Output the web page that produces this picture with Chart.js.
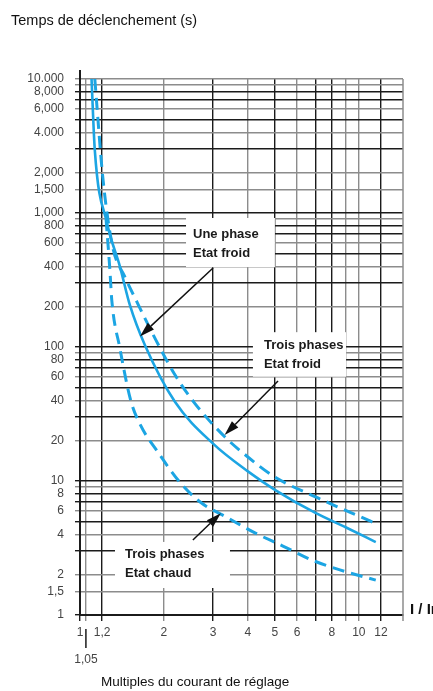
<!DOCTYPE html>
<html>
<head>
<meta charset="utf-8">
<script src="https://cdn.jsdelivr.net/npm/chart.js@4.4.1/dist/chart.umd.min.js"></script>
<style>
  html, body { margin: 0; padding: 0; background: #fff; }
  canvas { display: block; }
</style>
</head>
<body>
<canvas id="tripChart" width="433" height="691"></canvas>
<script>
const unePhaseFroidX = [1.10, 1.13, 1.25, 1.39, 1.51, 1.71, 2.19, 3.0, 4.0, 5.0, 6.96, 9.0, 11.5];
const unePhaseFroidY = [10000, 2950, 840, 400, 205, 103, 39, 19, 11.8, 8.6, 5.8, 4.5, 3.5];

const troisPhasesFroidX = [1.13, 1.21, 1.31, 1.45, 1.60, 1.87, 2.19, 2.58, 3.31, 4.0, 5.0, 7.13, 8.41, 10.8, 11.5];
const troisPhasesFroidY = [10000, 1760, 557, 333, 217, 113, 62, 38, 21.3, 15.1, 10.7, 7.47, 6.4, 5.1, 4.8];

const troisPhasesChaudX = [1.24, 1.28, 1.30, 1.39, 1.52, 1.65, 1.90, 2.28, 2.69, 3.39, 4.24, 5.34, 6.79, 8.55, 11.5];
const troisPhasesChaudY = [900, 375, 224, 98, 40, 26, 16.5, 9.8, 7.0, 5.3, 4.1, 3.27, 2.57, 2.17, 1.82];

// graduations
const xTicks = [1, 1.05, 1.2, 2, 3, 4, 5, 6, 7, 8, 9, 10, 12];
const xTickLabels = ['1', '', '1,2', '2', '3', '4', '5', '6', '', '8', '', '10', '12'];
const yTicks = [1, 1.5, 2, 3, 4, 5, 6, 7, 8, 9, 10, 20, 30, 40, 50, 60, 70, 80, 90,
  100, 200, 300, 400, 500, 600, 700, 800, 900, 1000, 1500, 2000, 3000, 4000, 5000,
  6000, 7000, 8000, 9000, 10000];
const yTickLabels = ['1', '1,5', '2', '', '4', '', '6', '', '8', '', '10', '20', '', '40', '', '60', '', '80', '',
  '100', '200', '', '400', '', '600', '', '800', '', '1,000', '1,500', '2,000', '', '4.000', '',
  '6,000', '', '8,000', '', '10.000'];

// styles
const BLUE = '#1ca5e3';
const DARK = '#1b1b1b';
const GREY = '#8c8c8c';
const darkX = [1, 1.2, 3, 5, 7, 8, 12];
const darkYMantissa = [1, 3, 5, 7, 8];

function points(xs, ys) {
  return xs.map((x, i) => ({ x: x, y: ys[i] }));
}

function yLineColor(v) {
  const m = Math.round(v / Math.pow(10, Math.floor(Math.log10(v) + 1e-9)) * 10) / 10;
  if (v === 10000) return GREY;
  return darkYMantissa.includes(m) ? DARK : GREY;
}

// callouts: coins des cadres et flèches en coordonnées de l'abaque
const callouts = [
  { lines: ['Une phase', 'Etat froid'], box: [2.4, 5.0, 918, 395], textDx: 7, textDy: [16, 35],
    arrow: [3.0, 389, 1.64, 120] },
  { lines: ['Trois phases', 'Etat froid'], box: [4.17, 9.0, 129, 60], textDx: 11, textDy: [13, 32],
    arrow: [5.13, 55.7, 3.3, 22] },
  { lines: ['Trois phases', 'Etat chaud'], box: [1.335, 3.45, 3.51, 1.59], textDx: 10, textDy: [12, 31],
    arrow: [2.54, 3.63, 3.2, 5.75] }
];

function drawArrow(ctx, x1, y1, x2, y2) {
  const ang = Math.atan2(y2 - y1, x2 - x1);
  const len = 15, half = 4.5;
  const bx = x2 - Math.cos(ang) * len, by = y2 - Math.sin(ang) * len;
  ctx.strokeStyle = '#111';
  ctx.lineWidth = 1.5;
  ctx.beginPath();
  ctx.moveTo(x1, y1);
  ctx.lineTo(bx, by);
  ctx.stroke();
  ctx.fillStyle = '#111';
  ctx.beginPath();
  ctx.moveTo(x2, y2);
  ctx.lineTo(bx + Math.sin(ang) * half, by - Math.cos(ang) * half);
  ctx.lineTo(bx - Math.sin(ang) * half, by + Math.cos(ang) * half);
  ctx.closePath();
  ctx.fill();
}

const annotations = {
  id: 'annotations',
  afterDatasetsDraw(chart) {
    const { ctx, chartArea, scales } = chart;
    const xs = scales.x, ys = scales.y;
    ctx.save();

    // bord droit de la grille
    ctx.strokeStyle = GREY;
    ctx.lineWidth = 1.5;
    ctx.beginPath();
    ctx.moveTo(chartArea.right, chartArea.top);
    ctx.lineTo(chartArea.right, chartArea.bottom + 6);
    ctx.stroke();

    // axe vertical prolongé vers le haut
    ctx.strokeStyle = DARK;
    ctx.lineWidth = 2;
    ctx.beginPath();
    ctx.moveTo(chartArea.left, chartArea.top - 9);
    ctx.lineTo(chartArea.left, chartArea.top);
    ctx.stroke();

    // repère 1,05
    const x105 = xs.getPixelForValue(1.05);
    ctx.lineWidth = 1.5;
    ctx.beginPath();
    ctx.moveTo(x105, chartArea.bottom + 14);
    ctx.lineTo(x105, chartArea.bottom + 33);
    ctx.stroke();
    ctx.fillStyle = '#444';
    ctx.font = '12px "Liberation Sans", Arial, sans-serif';
    ctx.textAlign = 'center';
    ctx.textBaseline = 'middle';
    ctx.fillText('1,05', x105, chartArea.bottom + 45);

    // cadres et flèches
    callouts.forEach(c => {
      const l = xs.getPixelForValue(c.box[0]);
      const r = xs.getPixelForValue(c.box[1]);
      const t = ys.getPixelForValue(c.box[2]);
      const b = ys.getPixelForValue(c.box[3]);
      ctx.fillStyle = '#fff';
      ctx.fillRect(l, t, r - l, b - t);
      ctx.fillStyle = '#1a1a1a';
      ctx.font = 'bold 13px "Liberation Sans", Arial, sans-serif';
      ctx.textAlign = 'left';
      ctx.textBaseline = 'middle';
      c.lines.forEach((txt, i) => ctx.fillText(txt, l + c.textDx, t + c.textDy[i]));
      drawArrow(ctx,
        xs.getPixelForValue(c.arrow[0]), ys.getPixelForValue(c.arrow[1]),
        xs.getPixelForValue(c.arrow[2]), ys.getPixelForValue(c.arrow[3]));
    });

    // titres
    ctx.fillStyle = '#111';
    ctx.textAlign = 'left';
    ctx.textBaseline = 'middle';
    ctx.font = '14.5px "Liberation Sans", Arial, sans-serif';
    ctx.fillText('Temps de déclenchement (s)', 11, 21);
    ctx.font = '13.5px "Liberation Sans", Arial, sans-serif';
    ctx.fillText('Multiples du courant de réglage', 101, 682);
    ctx.font = 'bold 15px "Liberation Sans", Arial, sans-serif';
    ctx.fillText('I / Ir', chartArea.right + 7, chartArea.bottom - 5);

    ctx.restore();
  }
};

const ctx = document.getElementById('tripChart').getContext('2d');
const chart = new Chart(ctx, {
  type: 'line',
  data: {
    datasets: [
      {
        label: 'Une phase, état froid',
        data: points(unePhaseFroidX, unePhaseFroidY),
        borderColor: BLUE, borderWidth: 2.6, pointRadius: 0,
        cubicInterpolationMode: 'monotone'
      },
      {
        label: 'Trois phases, état froid',
        data: points(troisPhasesFroidX, troisPhasesFroidY),
        borderColor: BLUE, borderWidth: 3, borderDash: [12, 7], pointRadius: 0,
        cubicInterpolationMode: 'monotone'
      },
      {
        label: 'Trois phases, état chaud',
        data: points(troisPhasesChaudX, troisPhasesChaudY),
        borderColor: BLUE, borderWidth: 3, borderDash: [12, 7], pointRadius: 0,
        cubicInterpolationMode: 'monotone'
      }
    ]
  },
  options: {
    responsive: false,
    animation: false,
    devicePixelRatio: 1,
    layout: { padding: { top: 79, right: 30, left: 0, bottom: 0 } },
    plugins: {
      legend: { display: false },
      tooltip: { enabled: false }
    },
    scales: {
      x: {
        type: 'logarithmic',
        min: 1,
        max: 14.4,
        afterBuildTicks: s => { s.ticks = xTicks.map(v => ({ value: v })); },
        afterFit: s => { s.height = 76; },
        ticks: {
          autoSkip: false,
          maxRotation: 0,
          padding: 4,
          color: '#444',
          font: { family: '"Liberation Sans", Arial, sans-serif', size: 12 },
          callback: (v, i) => xTickLabels[i]
        },
        grid: {
          color: c => darkX.includes(c.tick.value) ? DARK : GREY,
          lineWidth: 1.4,
          tickLength: 6
        },
        border: { display: true, color: DARK, width: 2 }
      },
      y: {
        type: 'logarithmic',
        min: 1,
        max: 10000,
        afterBuildTicks: s => { s.ticks = yTicks.map(v => ({ value: v })); },
        afterFit: s => { s.width = 80; },
        ticks: {
          autoSkip: false,
          padding: 11,
          color: '#444',
          font: { family: '"Liberation Sans", Arial, sans-serif', size: 12 },
          callback: (v, i) => yTickLabels[i]
        },
        grid: {
          color: c => yLineColor(c.tick.value),
          lineWidth: 1.4,
          tickLength: 5
        },
        border: { display: true, color: DARK, width: 2 }
      }
    }
  },
  plugins: [annotations]
});
</script>
</body>
</html>
